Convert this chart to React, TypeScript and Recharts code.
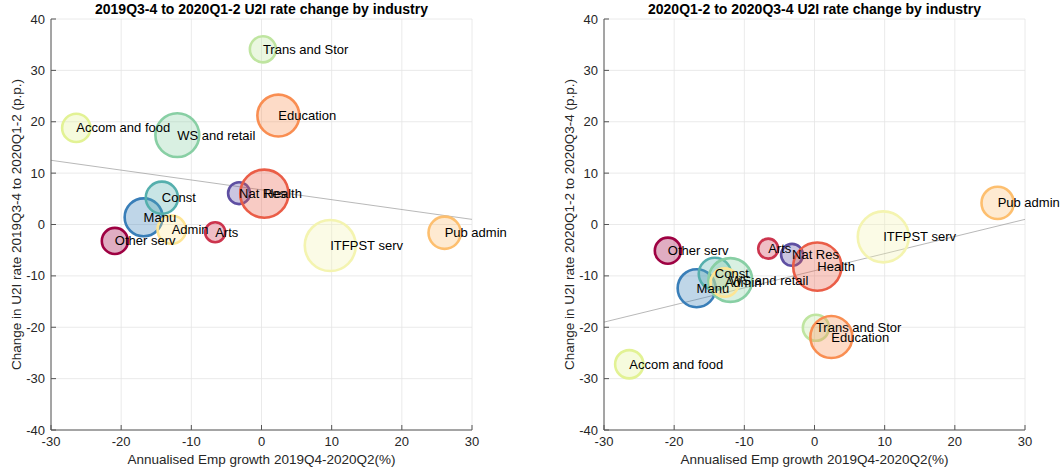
import React from "react";
import {
  CartesianGrid,
  Label,
  ReferenceLine,
  Scatter,
  ScatterChart,
  XAxis,
  YAxis,
  ZAxis,
} from "recharts";

// industries in colour-map order (Spectral, purple -> crimson)
const industries = [
  "Nat Res",
  "Manu",
  "Const",
  "WS and retail",
  "Trans and Stor",
  "Accom and food",
  "ITFPST serv",
  "Admin",
  "Pub admin",
  "Education",
  "Health",
  "Arts",
  "Other serv",
];
const industryColors = [
  "#5e4fa2",
  "#397eb8",
  "#55afad",
  "#88cfa4",
  "#bfe5a0",
  "#e2f294",
  "#f4f4b0",
  "#fee594",
  "#fdbf6f",
  "#f98e52",
  "#ea5d47",
  "#cc344d",
  "#9e0142",
];
// annualised employment growth 2019Q4-2020Q2 (%)
const empGrowth = [-3.2, -16.8, -14.2, -12.0, 0.2, -26.4, 9.8, -12.8, 26.1, 2.4, 0.4, -6.6, -20.9];
// change in U2I rate (p.p.)
const u2iChangeH1 = [6.1, 1.4, 5.2, 17.4, 34.1, 18.8, -4.1, -1.0, -1.6, 21.2, 6.0, -1.5, -3.2];
const u2iChangeH2 = [-5.9, -12.4, -9.6, -10.8, -20.1, -27.2, -2.4, -11.3, 4.2, -21.9, -8.2, -4.7, -5.1];
// bubble weight (employment size index)
const empWeight = [12, 36, 26, 48, 17, 20, 65, 20, 26, 44, 58, 10, 17];
// fitted line values at x = -30 and x = 30
const trendH1 = [12.5, 1.0];
const trendH2 = [-19.0, 1.0];

const xTicks = [-30, -20, -10, 0, 10, 20, 30];
const yTicks = [-40, -30, -20, -10, 0, 10, 20, 30, 40];

const FONT = "'Liberation Sans', Arial, Helvetica, sans-serif";

function Bubble(props: any) {
  const { cx, cy, width, size, payload } = props;
  const r = width != null ? width / 2 : Math.sqrt((size ?? 64) / Math.PI);
  return (
    <circle
      cx={cx}
      cy={cy}
      r={r}
      fill={payload.color}
      fillOpacity={0.32}
      stroke={payload.color}
      strokeWidth={2.6}
    />
  );
}

function BubbleLabel(props: any) {
  const { cx, cy, payload } = props;
  return (
    <text x={cx} y={cy} dy="0.35em" fontSize={13} fill="#000" fontFamily={FONT}>
      {payload.name}
    </text>
  );
}

function yLabel(text: string) {
  return (props: any) => {
    const vb = props.viewBox;
    const x = vb.x + 10;
    const y = vb.y + vb.height / 2;
    return (
      <text
        x={x}
        y={y}
        transform={`rotate(-90 ${x} ${y})`}
        textAnchor="middle"
        dominantBaseline="central"
        fontSize={13.5}
        fill="#262626"
        fontFamily={FONT}
      >
        {text}
      </text>
    );
  };
}

interface PanelProps {
  title: string;
  yTitle: string;
  values: number[];
  trend: number[];
  left: number;
  width: number;
}

function Panel({ title, yTitle, values, trend, left, width }: PanelProps) {
  const data = industries.map((name, i) => ({
    name,
    color: industryColors[i],
    x: empGrowth[i],
    y: values[i],
    z: empWeight[i],
  }));
  const tickStyle = { fontSize: 13, fill: "#262626", fontFamily: FONT };
  return (
    <div style={{ position: "absolute", left, top: 0, width, height: 472 }}>
      <div
        style={{
          position: "absolute",
          left: 51,
          width: 421,
          top: 1,
          textAlign: "center",
          fontFamily: FONT,
          fontWeight: "bold",
          fontSize: 14,
          lineHeight: "16px",
          color: "#000",
          whiteSpace: "nowrap",
        }}
      >
        {title}
      </div>
      <ScatterChart
        width={width}
        height={472}
        margin={{ top: 19, right: width - 472, bottom: 0, left: 6 }}
      >
        <CartesianGrid stroke="#e4e4e4" strokeWidth={0.8} />
        <XAxis
          type="number"
          dataKey="x"
          domain={[-30, 30]}
          ticks={xTicks}
          interval={0}
          height={42}
          axisLine={{ stroke: "#555", strokeWidth: 1 }}
          tickLine={{ stroke: "#555" }}
          tickSize={-5}
          tickMargin={12}
          tick={tickStyle}
        >
          <Label
            value="Annualised Emp growth 2019Q4-2020Q2(%)"
            position="insideBottom"
            offset={8}
            style={{ fontSize: 13.5, fill: "#262626", fontFamily: FONT }}
          />
        </XAxis>
        <YAxis
          type="number"
          dataKey="y"
          domain={[-40, 40]}
          ticks={yTicks}
          interval={0}
          width={45}
          axisLine={{ stroke: "#555", strokeWidth: 1 }}
          tickLine={{ stroke: "#555" }}
          tickSize={-5}
          tickMargin={11}
          tick={tickStyle}
          label={{ content: yLabel(yTitle) }}
        />
        <ZAxis type="number" dataKey="z" domain={[0, 100]} range={[0, 1000 * Math.PI]} />
        <ReferenceLine
          segment={[
            { x: -30, y: trend[0] },
            { x: 30, y: trend[1] },
          ]}
          stroke="#9a9a9a"
          strokeWidth={0.7}
        />
        <Scatter data={data} shape={<Bubble />} isAnimationActive={false} />
        <Scatter data={data} shape={<BubbleLabel />} isAnimationActive={false} />
      </ScatterChart>
    </div>
  );
}

export default function App() {
  return (
    <div
      style={{
        position: "absolute",
        left: 0,
        top: 0,
        width: 1060,
        height: 472,
        background: "#fff",
        overflow: "hidden",
      }}
    >
      <Panel
        title="2019Q3-4 to 2020Q1-2 U2I rate change by industry"
        yTitle="Change in U2I rate 2019Q3-4 to 2020Q1-2 (p.p.)"
        values={u2iChangeH1}
        trend={trendH1}
        left={0}
        width={530}
      />
      <Panel
        title="2020Q1-2 to 2020Q3-4 U2I rate change by industry"
        yTitle="Change in U2I rate 2020Q1-2 to 2020Q3-4 (p.p.)"
        values={u2iChangeH2}
        trend={trendH2}
        left={553}
        width={507}
      />
    </div>
  );
}
